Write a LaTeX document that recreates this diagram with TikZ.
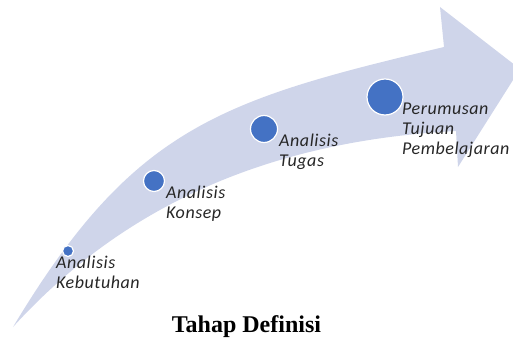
\documentclass[tikz,border=0pt]{standalone}
\usepackage{fontspec}
\setmainfont{Liberation Serif}
\newfontfamily\labfont{Carlito}[LetterSpace=3]
\definecolor{bandcol}{HTML}{CFD5EA}
\definecolor{dotcol}{HTML}{4472C4}
\tikzset{
  dot/.style={circle, fill=dotcol, draw=white, line width=1.2pt, inner sep=0pt},
  lab/.style={anchor=base west, inner sep=0pt, font=\labfont\itshape\fontsize{18}{20}\selectfont, text=black!85},
  ttl/.style={anchor=base, inner sep=0pt, font=\bfseries\fontsize{24}{28}\selectfont}
}
\newcommand{\twoline}[1]{\begin{tabular}[t]{@{}l@{}}#1\end{tabular}}
\begin{document}
\begin{tikzpicture}[x=1pt,y=-1pt]
\useasboundingbox (0,0) rectangle (513,337);
\begin{scope}
\clip (0,0) rectangle (513,337);
\fill[bandcol] (13,327) .. controls (133,127) and (220,100) .. (444,47)
  -- (440,7) -- (520,69) -- (458,167) -- (456,131)
  .. controls (286,140) and (133,195) .. (13,327) -- cycle;
\end{scope}
\node[dot, minimum size=11pt] (d1) at (68,251) {};
\node[dot, minimum size=21pt] (d2) at (154,181) {};
\node[dot, minimum size=27pt] (d3) at (264,129) {};
\node[dot, minimum size=36pt] (d4) at (385,97) {};
\node[lab] (t1) at (56,268) {\twoline{Analisis\\Kebutuhan}};
\node[lab] (t2) at (166,198) {\twoline{Analisis\\Konsep}};
\node[lab] (t3) at (279,146) {\twoline{Analisis\\Tugas}};
\node[lab] (t4) at (402,114) {\twoline{Perumusan\\Tujuan\\Pembelajaran}};
\node[ttl] (title) at (246.5,332) {Tahap Definisi};
\end{tikzpicture}
\end{document}
